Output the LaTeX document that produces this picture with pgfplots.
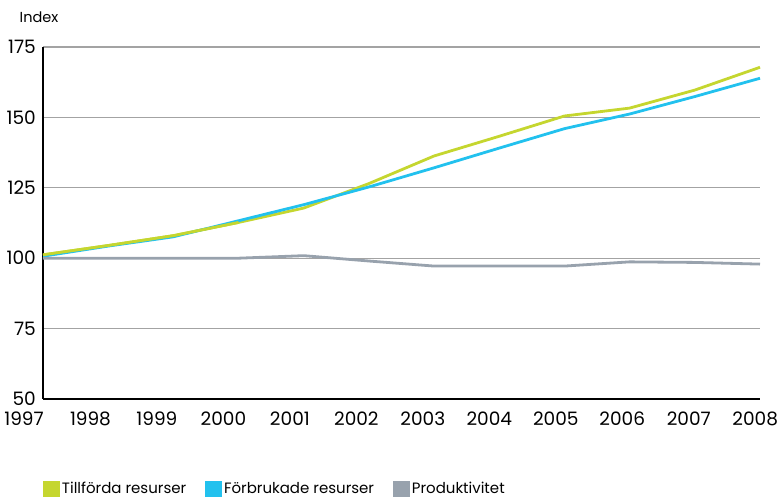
\documentclass[border=0pt]{standalone}
\usepackage{fontspec}
\setmainfont{Poppins}
\usepackage{pgfplots}
\pgfplotsset{compat=1.18}
\definecolor{tillford}{HTML}{C5D62F}
\definecolor{forbruk}{HTML}{22C1EE}
\definecolor{produkt}{HTML}{98A2AD}
\definecolor{gridgray}{HTML}{A3A3A3}

\begin{document}
\begin{tikzpicture}
\begin{axis}[
  scale only axis, width=717pt, height=352pt,
  xmin=1997, xmax=2008, ymin=50, ymax=175,
  clip=false,
  axis x line*=bottom, axis y line*=left,
  axis line style={line width=1.6pt, black, -},
  xtick={1997,...,2008}, ytick={50,75,...,175},
  major tick length=0pt,
  ymajorgrids, grid style={gridgray, line width=1.3pt},
  /pgf/number format/assume math mode=true,
  /pgf/number format/1000 sep={},
  tick label style={font=\fontsize{18.5}{21}\selectfont, inner sep=0pt},
  xticklabel style={xshift=\ticknum*1.3pt-19pt, yshift=-12.5pt},
  yticklabel style={xshift=-7pt},
  legend columns=3,
  legend style={at={(rel axis cs:0,-0.2557)}, anchor=west, draw=none, fill=none,
    inner sep=0pt, font=\fontsize{15}{18}\selectfont,
    /tikz/every even column/.append style={column sep=17pt}},
  legend image code/.code={\fill[#1] (0pt,-7pt) rectangle (14pt,7pt);},
]
\addplot[tillford, line width=2.8pt] coordinates {
  (1997,101.2) (1998,104.5) (1999,108.0) (2000,112.7) (2001,117.8) (2002,126.5)
  (2003,136.3) (2004,143.3) (2005,150.5) (2006,153.3) (2007,159.7) (2008,167.8)};
\addlegendentry{Tillförda resurser}
\addplot[forbruk, line width=2.8pt] coordinates {
  (1997,100.7) (1998,104.3) (1999,107.6) (2000,113.3) (2001,119.0) (2002,125.3)
  (2003,132.1) (2004,139.1) (2005,146.0) (2006,151.2) (2007,157.4) (2008,163.9)};
\addlegendentry{Förbrukade resurser}
\addplot[produkt, line width=2.8pt] coordinates {
  (1997,100.0) (1998,100.0) (1999,100.0) (2000,100.0) (2001,100.9) (2002,99.0)
  (2003,97.2) (2004,97.2) (2005,97.2) (2006,98.7) (2007,98.5) (2008,97.9)};
\addlegendentry{Produktivitet}
% green line again so it sits above the blue one where they overlap
\addplot[tillford, line width=2.8pt, forget plot] coordinates {
  (1997,101.2) (1998,104.5) (1999,108.0) (2000,112.7)};
\node[font=\fontsize{14.5}{17}\selectfont] at ([xshift=-4pt,yshift=30pt]rel axis cs:0,1) {Index};
\end{axis}
\pgfresetboundingbox
\path[use as bounding box] (-43pt,-103pt) rectangle (735pt,399pt);
\end{tikzpicture}
\end{document}
